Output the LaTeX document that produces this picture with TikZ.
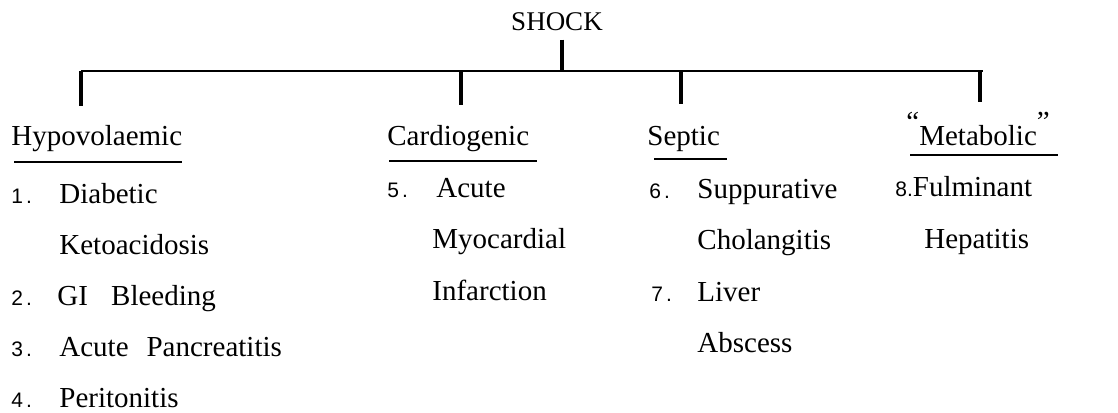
\documentclass[tikz,border=0pt]{standalone}
\usepackage{fontspec}
\setmainfont{Liberation Serif}
\newfontfamily\numfont{Liberation Sans}
\newcommand{\numsize}{\fontsize{10.5}{12}\numfont}
\newcommand{\dotnum}[1]{#1\kern1.5pt.}

\begin{document}
\begin{tikzpicture}[x=0.5pt, y=-0.5pt,
    every node/.style={inner sep=0pt, font=\fontsize{14.5}{17}\selectfont},
    item/.style={anchor=base west},
    num/.style={anchor=base west, font=\numsize},
    rule/.style={line width=1.3pt},
    drop/.style={line width=1.6pt}]
    \useasboundingbox (0,0) rectangle (1118,412);
    \node[anchor=base, inner ysep=4.5pt, font=\fontsize{13.5}{16}\selectfont] (shock) at (557,30) {SHOCK};
    \coordinate (top) at (562,71);
    \coordinate (b1) at (81,71);
    \coordinate (b2) at (461,71);
    \coordinate (b3) at (681,71);
    \coordinate (b4) at (980,71);
    \coordinate (bend) at (983,71);
    \coordinate (d1) at (81,106);
    \coordinate (d2) at (461,105);
    \coordinate (d3) at (681,104);
    \coordinate (d4) at (980,102);
    \draw[drop] (shock.south -| top) -- (top);
    \draw[rule] (b1) -- (bend);
    \foreach \i in {1,...,4}
        \draw[drop] (b\i) -- (d\i);
    \node[item] (hypo) at (11,145) {Hypovolaemic};
    \node[item] (cardio) at (387,145) {Cardiogenic};
    \node[item] (septic) at (647,145) {Septic};
    \node[item] (metab) at (906,145) {\raisebox{0.45em}{``}Metabolic\raisebox{0.45em}{''}};
    \draw[rule] (14,162) -- (182,162);
    \draw[rule] (389,161) -- (537,161);
    \draw[rule] (654,159) -- (727,159);
    \draw[rule] (910,155) -- (1058,155);
    \node[num] (n1) at (11,203) {\dotnum{1}};
    \node[item] (diab) at (59,203) {Diabetic};
    \node[item] (keto) at (59,254) {Ketoacidosis};
    \node[num] (n2) at (11,305) {\dotnum{2}};
    \node[item] (gib) at (57,305) {GI\hspace{0.8em}Bleeding};
    \node[num] (n3) at (11,356) {\dotnum{3}};
    \node[item] (pancr) at (59,356) {Acute\hspace{0.62em}Pancreatitis};
    \node[num] (n4) at (11,407) {\dotnum{4}};
    \node[item] (perit) at (59,407) {Peritonitis};
    \node[num] (n5) at (387,197) {\dotnum{5}};
    \node[item] (acute) at (436,197) {Acute};
    \node[item] (myoc) at (432,248) {Myocardial};
    \node[item] (infarc) at (432,300) {Infarction};
    \node[num] (n6) at (649,198) {\dotnum{6}};
    \node[item] (suppur) at (697,198) {Suppurative};
    \node[item] (cholang) at (697,249) {Cholangitis};
    \node[num] (n7) at (651,301) {\dotnum{7}};
    \node[item] (liver) at (697,301) {Liver};
    \node[item] (absc) at (697,352) {Abscess};
    \node[item] (fulmin) at (895,196) {{\numsize 8.}Fulminant};
    \node[item] (hepat) at (924,248) {Hepatitis};
\end{tikzpicture}
\end{document}
